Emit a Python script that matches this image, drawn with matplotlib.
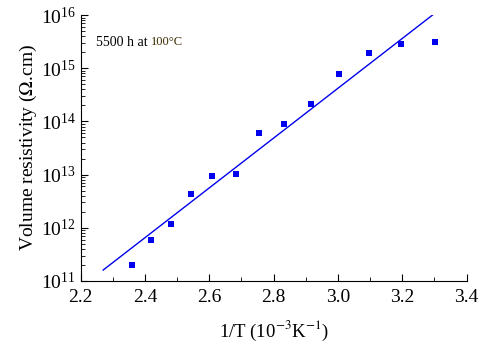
import numpy as np
import matplotlib
matplotlib.use('Agg')
import matplotlib.pyplot as plt
from matplotlib.ticker import LogLocator, MultipleLocator, NullFormatter

plt.rcParams['font.family'] = 'Liberation Serif'
plt.rcParams['mathtext.fontset'] = 'stix'

# measured points: 1/T (10^-3 K^-1) vs volume resistivity (ohm.cm)
inv_T = [2.36, 2.419, 2.481, 2.542, 2.609, 2.682, 2.754, 2.833, 2.915, 3.002, 3.097, 3.197, 3.303]
rho = [1.98e11, 5.9e11, 1.19e12, 4.25e12, 9.4e12, 1.03e13, 6.1e13, 8.8e13,
       2.16e14, 7.8e14, 1.92e15, 2.84e15, 3.09e15]

# fitted line end points
fit_x = [2.27, 3.294]
fit_y = [1.6e11, 1.0e16]

fig = plt.figure(figsize=(4.8, 3.43), dpi=100)
ax = fig.add_axes([0.168, 0.181, 0.804, 0.775])

ax.plot(fit_x, fit_y, color='#0000ee', lw=1.0)
ax.plot(inv_T, rho, 's', color='#0000ee', markersize=4.2, markeredgewidth=0)

ax.set_yscale('log')
ax.set_xlim(2.2, 3.4)
ax.set_ylim(1e11, 1e16)

ax.xaxis.set_major_locator(MultipleLocator(0.2))
ax.xaxis.set_minor_locator(MultipleLocator(0.1))
ax.yaxis.set_major_locator(LogLocator(base=10, numticks=10))
ax.yaxis.set_minor_locator(LogLocator(base=10, subs=np.arange(2, 10), numticks=20))
ax.yaxis.set_minor_formatter(NullFormatter())
ax.set_xticklabels(['%.1f' % v for v in ax.get_xticks()])

for s in ['top', 'right']:
    ax.spines[s].set_visible(False)

ax.tick_params(which='both', direction='in', labelsize=14)
ax.tick_params(which='major', length=5, width=0.8)
ax.tick_params(which='minor', length=3, width=0.6)
ax.tick_params(axis='x', pad=6)

ax.set_xlabel('1/T (10$^{-3}$K$^{-1}$)', fontsize=13.5, labelpad=9)
ax.set_ylabel('Volume resistivity ($\\Omega$.cm)', fontsize=14, labelpad=1)

ax.text(0.04, 0.898, '5500 h at', transform=ax.transAxes, fontsize=10, va='center')
ax.text(0.183, 0.9, '100\u00b0C', transform=ax.transAxes, fontsize=9,
        va='center', color='#3a2a00')

fig.savefig('out.png', dpi=100)
